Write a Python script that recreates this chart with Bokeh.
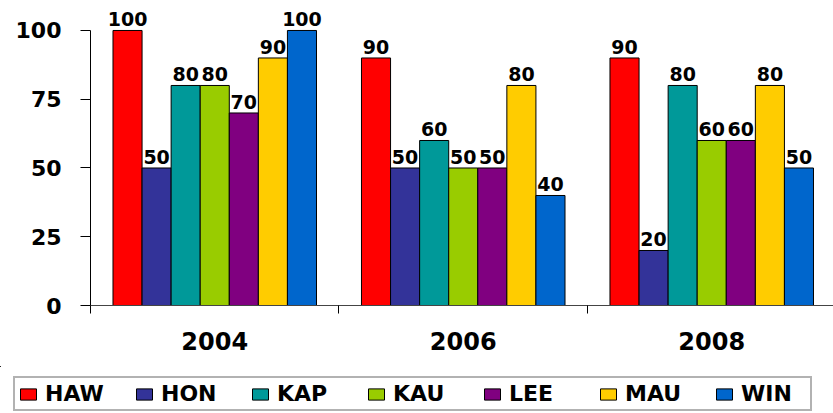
from bokeh.plotting import figure
from bokeh.layouts import column
from bokeh.models import Range1d, FixedTicker, Legend, LegendItem, ColumnDataSource
from bokeh.core.properties import value
from bokeh.embed import file_html
from bokeh.resources import INLINE

years = ["2004", "2006", "2008"]
series_names = ["HAW", "HON", "KAP", "KAU", "LEE", "MAU", "WIN"]
HAW = [100, 90, 90]
HON = [50, 50, 20]
KAP = [80, 60, 80]
KAU = [80, 50, 60]
LEE = [70, 50, 60]
MAU = [90, 80, 80]
WIN = [100, 40, 50]
series_values = [HAW, HON, KAP, KAU, LEE, MAU, WIN]
colors = ["#FF0000", "#333399", "#009999", "#99CC00", "#800080", "#FFCC00", "#0066CC"]
y_ticks = [0, 25, 50, 75, 100]

FONT = "DejaVu Sans"
centers = [i + 0.5 for i in range(len(years))]
bw = 0.117

p = figure(width=833, height=366, output_backend="svg", toolbar_location=None,
           x_range=Range1d(0, 2.99), y_range=Range1d(0, 110.9),
           min_border_left=90, min_border_right=0, min_border_top=0, min_border_bottom=61)
p.outline_line_color = None
p.xgrid.visible = False
p.ygrid.visible = False
p.background_fill_color = "white"
p.border_fill_color = "white"
p.frame_align = False

for i, (name, vals, col) in enumerate(zip(series_names, series_values, colors)):
    xs = [c + (i - 3) * bw for c in centers]
    src = ColumnDataSource(dict(x=xs, top=vals, label=[str(v) for v in vals]))
    p.vbar(x="x", top="top", width=bw, source=src, fill_color=col,
           line_color="#000000", line_width=1)
    p.text(x="x", y="top", text="label", source=src, text_align="center",
           text_baseline="bottom", y_offset=-4, text_font=value(FONT),
           text_font_style="bold", text_font_size="19px", text_color="black")

# y axis
ya = p.yaxis[0]
ya.ticker = FixedTicker(ticks=y_ticks)
ya.bounds = (0, 100)
ya.major_tick_out = 10
ya.major_tick_in = 0
ya.minor_tick_line_color = None
ya.major_label_standoff = 19
ya.major_label_text_font = FONT
ya.major_label_text_font_style = "bold"
ya.major_label_text_font_size = "22px"
ya.major_label_text_color = "black"
ya.axis_line_color = "black"

# x axis
xa = p.xaxis[0]
xa.ticker = FixedTicker(ticks=centers, minor_ticks=[0, 1, 2, 3])
xa.major_label_overrides = {c: y for c, y in zip(centers, years)}
xa.major_tick_line_color = None
xa.major_tick_out = 0
xa.major_tick_in = 0
xa.minor_tick_out = 8
xa.minor_tick_in = 0
xa.minor_tick_line_color = "black"
xa.major_label_standoff = 18
xa.major_label_text_font = FONT
xa.major_label_text_font_style = "bold"
xa.major_label_text_font_size = "24px"
xa.major_label_text_color = "black"
xa.axis_line_color = "#444444"

# legend strip
lg = figure(width=833, height=47, output_backend="svg", toolbar_location=None,
            x_range=Range1d(0, 1), y_range=Range1d(0, 1),
            x_axis_type=None, y_axis_type=None,
            min_border_left=0, min_border_right=0, min_border_top=0, min_border_bottom=0)
lg.outline_line_color = None
lg.xgrid.visible = False
lg.ygrid.visible = False
lg.frame_align = False
lg.background_fill_color = "white"
lg.border_fill_color = "white"
items = []
for name, col in zip(series_names, colors):
    r = lg.vbar(x=[-10], bottom=[5], top=[6], width=0.1, fill_color=col,
                line_color="#000000", line_width=1)
    items.append(LegendItem(label=name, renderers=[r]))

legend = Legend(items=items, orientation="horizontal", location=(13, 2),
                glyph_width=20, glyph_height=14, label_standoff=7, label_width=66,
                spacing=23, padding=3, margin=0, label_height=18,
                label_text_font=FONT, label_text_font_style="bold",
                label_text_font_size="22px", label_text_color="black",
                border_line_color="#666666", border_line_width=2,
                background_fill_color="white", background_fill_alpha=1)
lg.add_layout(legend)

layout = column(p, lg, spacing=0)
open("out.html", "w").write(file_html(layout, INLINE))
